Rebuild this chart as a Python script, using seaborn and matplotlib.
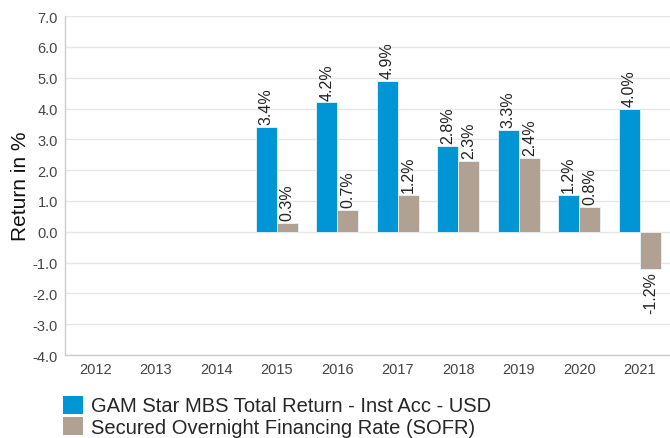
import matplotlib
matplotlib.use("Agg")
import matplotlib.pyplot as plt
import seaborn as sns
import pandas as pd
import numpy as np
from matplotlib.patches import Patch

years = ["2012", "2013", "2014", "2015", "2016", "2017", "2018", "2019", "2020", "2021"]
fund = [np.nan, np.nan, np.nan, 3.4, 4.2, 4.9, 2.8, 3.3, 1.2, 4.0]
sofr = [np.nan, np.nan, np.nan, 0.3, 0.7, 1.2, 2.3, 2.4, 0.8, -1.2]
series_names = ["GAM Star MBS Total Return - Inst Acc - USD",
                "Secured Overnight Financing Rate (SOFR)"]
colors = ["#0096d6", "#b0a193"]
yticks = [-4, -3, -2, -1, 0, 1, 2, 3, 4, 5, 6, 7]

df = pd.DataFrame({
    "Year": years * 2,
    "Series": [series_names[0]] * len(years) + [series_names[1]] * len(years),
    "Value": fund + sofr,
})

sns.set_theme(style="white")
plt.rcParams["font.family"] = ["Liberation Sans", "DejaVu Sans"]

fig, ax = plt.subplots(figsize=(6.7, 4.39), dpi=100)
fig.subplots_adjust(left=0.097, right=1.0, top=0.961, bottom=0.189)

sns.barplot(data=df, x="Year", y="Value", hue="Series", order=years,
            hue_order=series_names, palette=colors, saturation=1, width=0.7,
            edgecolor="#e8f4fb", linewidth=0.6, ax=ax, legend=False)

for cont in ax.containers:
    labels = ["" if np.isnan(v) else f"{v:.1f}%" for v in cont.datavalues]
    ax.bar_label(cont, labels=labels, rotation=90, padding=2,
                 fontsize=11.5, color="#222222")

ax.set_ylim(-4, 7)
ax.set_yticks(yticks)
ax.set_yticklabels([f"{t:.1f}" for t in yticks])
ax.set_xlim(-0.5, len(years) - 0.5)
ax.yaxis.grid(True, color="#e6e6e6", linewidth=1)
ax.set_axisbelow(True)
ax.tick_params(axis="both", length=0, labelsize=10.5, labelcolor="#444444", pad=5)
ax.set_xlabel("")
ax.set_ylabel("Return in %", fontsize=15, color="#111111", labelpad=2)
for s in ["top", "right"]:
    ax.spines[s].set_visible(False)
for s in ["left", "bottom"]:
    ax.spines[s].set_color("#cccccc")
    ax.spines[s].set_linewidth(1)

handles = [Patch(facecolor=c, edgecolor="none") for c in colors]
fig.legend(handles, series_names, loc="lower left", bbox_to_anchor=(0.082, -0.016),
           frameon=False, fontsize=14.5, handlelength=1.0, handleheight=1.0,
           handletextpad=0.4, labelspacing=0.08, borderaxespad=0)

fig.savefig("out.png", dpi=100)
